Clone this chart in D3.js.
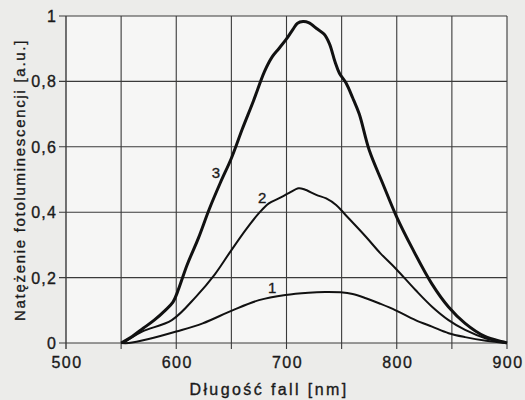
<!DOCTYPE html>
<html>
<head>
<meta charset="utf-8">
<script src="https://cdn.jsdelivr.net/npm/d3@7"></script>
<style>
  html, body { margin: 0; padding: 0; background: #ececea; }
  svg { display: block; }
  text { font-family: "Liberation Sans", Arial, sans-serif; fill: #1a1a1a; stroke: #1a1a1a; stroke-width: 0.35px; }
</style>
</head>
<body>
<svg id="chart" width="525" height="400"></svg>
<script>
// Wavelength (nm) and intensity (a.u.) for each curve
const curve1Wavelength = [550, 557, 575, 600, 624, 651, 675, 699, 720, 735, 749, 760, 772, 785, 799, 817, 832, 847, 862, 881, 900];
const curve1Values     = [0, 0.0, 0.012, 0.035, 0.06, 0.10, 0.131, 0.147, 0.154, 0.156, 0.155, 0.15, 0.137, 0.12, 0.10, 0.07, 0.05, 0.03, 0.018, 0.007, 0];

const curve2Wavelength = [552, 569, 596, 618, 635, 648, 663, 675, 684, 693, 702, 711, 716, 727, 736, 745, 754, 772, 785, 799, 817, 832, 847, 862, 881, 900];
const curve2Values     = [0, 0.035, 0.07, 0.142, 0.21, 0.274, 0.346, 0.397, 0.427, 0.442, 0.458, 0.473, 0.47, 0.453, 0.442, 0.422, 0.39, 0.325, 0.275, 0.228, 0.162, 0.111, 0.07, 0.04, 0.014, 0];

const curve3Wavelength = [550, 560, 570, 580, 590, 597, 601, 610, 620, 630, 640, 650, 660, 670, 680, 687, 693, 700, 706, 710, 715, 720, 728, 734, 739, 744, 748, 754, 760, 766, 775, 787, 800, 814, 832, 847, 862, 880, 896, 900];
const curve3Values     = [0, 0.02, 0.045, 0.07, 0.1, 0.125, 0.155, 0.24, 0.32, 0.41, 0.49, 0.565, 0.655, 0.74, 0.83, 0.875, 0.9, 0.93, 0.96, 0.978, 0.983, 0.98, 0.96, 0.945, 0.915, 0.86, 0.825, 0.795, 0.75, 0.70, 0.59, 0.49, 0.385, 0.29, 0.18, 0.11, 0.06, 0.02, 0.004, 0];

const curveLabels = ["1", "2", "3"];
const curveLabelAt = [[687, 0.153], [678, 0.428], [636, 0.505]];

const xTicks = [500, 600, 700, 800, 900];
const xGrid = [550, 600, 650, 700, 750, 800, 850, 900];
const yTicks = [0, 0.2, 0.4, 0.6, 0.8, 1];
const yTickLabels = ["0", "0,2", "0,4", "0,6", "0,8", "1"];
const xTitle = "Długość fall [nm]";
const yTitle = "Natężenie fotoluminescencji [a.u.]";

const svg = d3.select("#chart");
const x = d3.scaleLinear().domain([500, 900]).range([66, 507]);
const y = d3.scaleLinear().domain([0, 1]).range([343, 16]);

// plot background
svg.append("rect").attr("x", x(500)).attr("y", y(1))
  .attr("width", x(900) - x(500)).attr("height", y(0) - y(1))
  .attr("fill", "#f6f6f5");

const grid = svg.append("g").attr("stroke", "#3a3a3a").attr("stroke-width", 1.1);
grid.selectAll("line.v").data(xGrid).join("line")
  .attr("x1", d => x(d)).attr("x2", d => x(d))
  .attr("y1", y(1)).attr("y2", y(0) + 6);
grid.selectAll("line.h").data(yTicks).join("line")
  .attr("x1", x(500) - 7).attr("x2", x(900))
  .attr("y1", d => y(d)).attr("y2", d => y(d));
grid.append("line").attr("x1", x(500)).attr("x2", x(500))
  .attr("y1", y(1)).attr("y2", y(0) + 6).attr("stroke-width", 1.4);

// y tick labels
svg.append("g").selectAll("text").data(yTicks).join("text")
  .attr("x", 57).attr("y", d => y(d) + 6)
  .attr("text-anchor", "end")
  .attr("font-size", 16).attr("letter-spacing", 1.2)
  .text((d, i) => yTickLabels[i]);

// x tick labels
svg.append("g").selectAll("text").data(xTicks).join("text")
  .attr("x", d => x(d) + 1).attr("y", 368)
  .attr("text-anchor", "middle")
  .attr("font-size", 16).attr("letter-spacing", 1.5)
  .text(d => d);

// axis titles
svg.append("text").attr("x", 269).attr("y", 395)
  .attr("text-anchor", "middle").attr("font-size", 16).attr("letter-spacing", 2.4)
  .text(xTitle);
svg.append("text")
  .attr("transform", "translate(25,180) rotate(-90)")
  .attr("text-anchor", "middle").attr("font-size", 15).attr("letter-spacing", 1.7)
  .text(yTitle);

// curves
const line = d3.line().x(d => x(d[0])).y(d => y(d[1])).curve(d3.curveCatmullRom.alpha(0.5));
const series = [
  { w: curve1Wavelength, v: curve1Values, sw: 2.0 },
  { w: curve2Wavelength, v: curve2Values, sw: 2.0 },
  { w: curve3Wavelength, v: curve3Values, sw: 3.0 }
];
series.forEach(s => {
  svg.append("path")
    .datum(s.w.map((w, i) => [w, s.v[i]]))
    .attr("fill", "none").attr("stroke", "#111")
    .attr("stroke-width", s.sw).attr("stroke-linejoin", "round")
    .attr("d", line);
});

// curve labels
svg.append("g").selectAll("text").data(curveLabels).join("text")
  .attr("x", (d, i) => x(curveLabelAt[i][0])).attr("y", (d, i) => y(curveLabelAt[i][1]))
  .attr("text-anchor", "middle").attr("font-size", 15)
  .text(d => d);
</script>
</body>
</html>
